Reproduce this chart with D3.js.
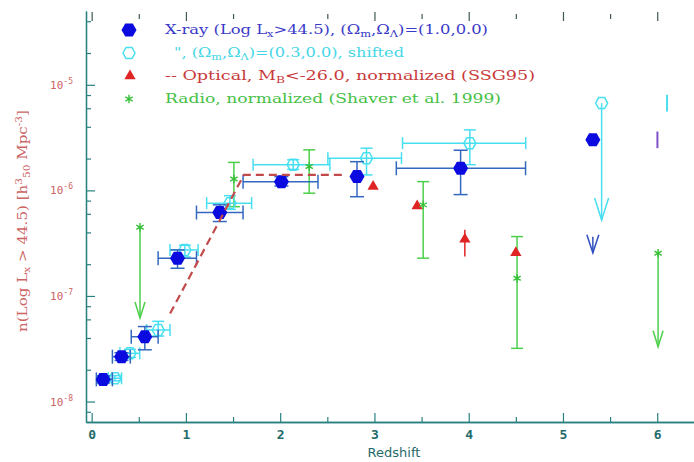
<!DOCTYPE html>
<html><head><meta charset="utf-8">
<script src="https://cdn.jsdelivr.net/npm/d3@7"></script>
<style>body{margin:0;background:#fff}svg{display:block}</style>
</head><body>
<svg id="c" width="694" height="462"></svg>
<script>
// ---------------- data ----------------
// X-ray, (Om,OL)=(1.0,0.0)
const xrayZ   = [0.122, 0.317, 0.564, 0.911, 1.359, 2.013, 2.815, 3.914];
const xrayN   = [1.62e-8, 2.66e-8, 4.11e-8, 2.28e-7, 6.17e-7, 1.21e-6, 1.35e-6, 1.62e-6];
const xrayNlo = [1.50e-8, 2.45e-8, 3.09e-8, 1.83e-7, 5.07e-7, 1.10e-6, 8.71e-7, 9.12e-7];
const xrayNhi = [1.75e-8, 2.90e-8, 5.13e-8, 2.73e-7, 7.30e-7, 1.35e-6, 1.87e-6, 2.40e-6];
const xrayZlo = [0.05, 0.22, 0.42, 0.705, 1.112, 1.606, null, 3.232];
const xrayZhi = [0.22, 0.41, 0.705, 1.112, 1.606, 2.401, null, 4.603];
const xrayLimZ = [5.317], xrayLimN = [3.01e-6], xrayLimTip = [2.56e-7];
// X-ray, (Om,OL)=(0.3,0.0), shifted
const shZ   = [0.247, 0.406, 0.706, 0.989, 1.467, 2.138, 2.916, 4.012];
const shN   = [1.66e-8, 2.86e-8, 4.76e-8, 2.73e-7, 7.57e-7, 1.75e-6, 2.02e-6, 2.80e-6];
const shNlo = [1.57e-8, 2.62e-8, 4.17e-8, 2.34e-7, 6.61e-7, 1.58e-6, 1.40e-6, 1.75e-6];
const shNhi = [1.76e-8, 3.12e-8, 5.75e-8, 3.02e-7, 8.91e-7, 1.95e-6, 2.51e-6, 3.74e-6];
const shZlo = [0.176, 0.30, 0.583, 0.831, 1.220, 1.713, 2.506, 3.298];
const shZhi = [0.317, 0.51, 0.831, 1.129, 1.697, 2.527, 3.287, 4.605];
const shLimZ = [5.41], shLimN = [6.71e-6], shLimTip = [5.25e-7];
// partial error bars at the right edge
const edgeBlueZ = [6.002], edgeBlueLo = [2.51e-6], edgeBlueHi = [3.61e-6];
const edgeCyanZ = [6.104], edgeCyanLo = [5.58e-6], edgeCyanHi = [8.04e-6];
// Optical, normalized (SSG95)
const optZ   = [2.986, 3.453, 3.959, 4.500];
const optN   = [1.09e-6, 7.13e-7, 3.44e-7, 2.57e-7];
const optNlo = [null, null, 2.36e-7, null];
const optNhi = [null, null, 4.23e-7, null];
const optCurveZ = [0.832, 1.615, 2.665];
const optCurveN = [6.81e-8, 1.40e-6, 1.40e-6];
// Radio, normalized (Shaver et al. 1999)
const radZ   = [1.509, 2.308, 3.517, 4.513];
const radN   = [1.28e-6, 1.68e-6, 7.29e-7, 1.47e-7];
const radNlo = [7.01e-7, 9.40e-7, 2.28e-7, 3.19e-8];
const radNhi = [1.84e-6, 2.42e-6, 1.21e-6, 3.65e-7];
const radLimZ = [0.513, 6.009], radLimN = [4.48e-7, 2.54e-7], radLimTip = [6.18e-8, 3.30e-8];
// axes
const xMajor = [0, 1, 2, 3, 4, 5, 6];
const xMinor = [0.5, 1.5, 2.5, 3.5, 4.5, 5.5];
const topMajor = [0, 1, 3, 4, 5, 6];
const topMinor = [0.5, 1.5, 2.5, 3.5, 4.5, 5.5];
const yMajor = [1e-8, 1e-7, 1e-6, 1e-5];
const yMajorLabels = ["-8", "-7", "-6", "-5"];
const yMinor = [8e-9, 2e-8, 4e-8, 6e-8, 8e-8, 2e-7, 4e-7, 6e-7, 8e-7, 2e-6, 4e-6, 6e-6, 8e-6, 2e-5, 4e-5];
const legendLabels = [
  [["X-ray (Log L",""],["x","sub"],[">44.5), (Ω",""],["m","sub"],[",Ω",""],["Λ","sub"],[")=(1.0,0.0)",""]],
  [["\", (Ω",""],["m","sub"],[",Ω",""],["Λ","sub"],[")=(0.3,0.0), shifted",""]],
  [["-- Optical, M",""],["B","sub"],["<-26.0, normalized (SSG95)",""]],
  [["Radio, normalized (Shaver et al. 1999)",""]]
];

// ---------------- styles ----------------
const C = {
  blue: "#0b0be0", blueBar: "#3468c0", cyan: "#48dff0", red: "#e02424", redDash: "#c24a4a",
  green: "#4cd04c", axis: "#2a8080", xText: "#1f6a6a", yText: "#cc6464",
  leg: ["#3a3ac8", "#46d6e6", "#c83a3a", "#46c046"], edgeBlue: "#8050c8"
};

const svg = d3.select("#c");
const x = d3.scaleLinear().domain([-0.06, 6.39]).range([86, 694]);
const y = d3.scaleLog().domain([6.4e-9, 5.0e-5]).range([422, 11]);

// ---------------- axes ----------------
const gAx = svg.append("g");
function styleAxis(g) {
  g.selectAll("path.domain").attr("stroke", C.axis).attr("stroke-width", 1.3);
  g.selectAll(".tick line").attr("stroke", C.axis).attr("stroke-width", 1.2);
}
// bottom
gAx.append("g").attr("transform", "translate(0,422)")
  .call(d3.axisBottom(x).tickValues(xMinor).tickSizeInner(-5).tickSizeOuter(0).tickFormat(""))
  .call(styleAxis);
const bx = gAx.append("g").attr("transform", "translate(0,422)")
  .call(d3.axisBottom(x).tickValues(xMajor).tickSizeInner(-9).tickSizeOuter(0).tickFormat(d3.format("d")).tickPadding(5))
  .call(styleAxis);
bx.selectAll("text").attr("fill", C.xText).attr("font-family", "DejaVu Sans Mono, monospace")
  .attr("font-size", 13).attr("font-weight", "bold").attr("dy", "0.9em");
// top ticks (no line)
const tp1 = gAx.append("g").attr("transform", "translate(0,12)")
  .call(d3.axisBottom(x).tickValues(topMajor).tickSizeInner(9).tickSizeOuter(0).tickFormat(""));
tp1.select("path.domain").remove();
tp1.selectAll(".tick line").attr("stroke", "#405858").attr("stroke-width", 1.2);
const tp2 = gAx.append("g").attr("transform", "translate(0,14)")
  .call(d3.axisBottom(x).tickValues(topMinor).tickSizeInner(5).tickSizeOuter(0).tickFormat(""));
tp2.select("path.domain").remove();
tp2.selectAll(".tick line").attr("stroke", "#405858").attr("stroke-width", 1.2);
// left
gAx.append("g").attr("transform", "translate(86,0)")
  .call(d3.axisLeft(y).tickValues(yMinor).tickSizeInner(-5).tickSizeOuter(0).tickFormat(""))
  .call(styleAxis);
gAx.append("g").attr("transform", "translate(86,0)")
  .call(d3.axisLeft(y).tickValues(yMajor).tickSizeInner(-9).tickSizeOuter(0).tickFormat(""))
  .call(styleAxis);
// y tick labels 10^n
yMajor.forEach((v, i) => {
  const t = svg.append("text").attr("x", 73).attr("y", y(v) + 4).attr("text-anchor", "end")
    .attr("fill", C.yText).attr("font-family", "DejaVu Sans Mono, monospace").attr("font-size", 11);
  t.append("tspan").text("10");
  t.append("tspan").attr("dy", -5).attr("font-size", 8).text(yMajorLabels[i]);
});

// rich text helper
function rich(t, parts, fs) {
  let off = 0;
  parts.forEach(([s, m]) => {
    const target = m === "sub" ? 3 : m === "sup" ? -5 : 0;
    const sp = t.append("tspan").attr("dy", target - off).text(s);
    if (m) sp.attr("font-size", fs * 0.7);
    off = target;
  });
}
// axis titles
const yt = svg.append("text").attr("transform", "translate(27,221) rotate(-90)")
  .attr("text-anchor", "middle").attr("fill", C.yText)
  .attr("font-family", "DejaVu Serif, serif").attr("font-size", 12)
  .attr("textLength", 222).attr("lengthAdjust", "spacingAndGlyphs");
rich(yt, [["n(Log L",""],["x","sub"],[" > 44.5) [h",""],["3","sup"],["50","sub"],[" Mpc",""],["-3","sup"],["]",""]], 12);
svg.append("text").attr("x", 394).attr("y", 457).attr("text-anchor", "middle")
  .attr("fill", C.xText).attr("font-family", "DejaVu Sans, sans-serif").attr("font-size", 13)
  .text("Redshift");

// ---------------- marks ----------------
const g = svg.append("g");
function hexPath(cx, cy, w, h) {
  return `M${cx - w / 2},${cy}L${cx - w / 4},${cy - h / 2}L${cx + w / 4},${cy - h / 2}L${cx + w / 2},${cy}L${cx + w / 4},${cy + h / 2}L${cx - w / 4},${cy + h / 2}Z`;
}
function line(gg, x1, y1, x2, y2, col, sw) {
  gg.append("line").attr("x1", x1).attr("y1", y1).attr("x2", x2).attr("y2", y2)
    .attr("stroke", col).attr("stroke-width", sw || 1.5);
}
function errbars(gg, zs, ns, zlo, zhi, nlo, nhi, col, cap) {
  zs.forEach((z, i) => {
    const cx = x(z), cy = y(ns[i]);
    if (zlo && zlo[i] != null) {
      line(gg, x(zlo[i]), cy, x(zhi[i]), cy, col);
      if (cap) { line(gg, x(zlo[i]), cy - cap, x(zlo[i]), cy + cap, col); line(gg, x(zhi[i]), cy - cap, x(zhi[i]), cy + cap, col); }
    }
    if (nlo && nlo[i] != null) {
      line(gg, cx, y(nlo[i]), cx, y(nhi[i]), col);
      if (cap) { line(gg, cx - cap, y(nlo[i]), cx + cap, y(nlo[i]), col); line(gg, cx - cap, y(nhi[i]), cx + cap, y(nhi[i]), col); }
    }
  });
}
function arrow(gg, z, from, tip, col, hw, hh, shaftOnly) {
  const cx = x(z), ty = y(tip);
  line(gg, cx, shaftOnly ? ty - shaftOnly : y(from), cx, ty, col);
  gg.append("path").attr("d", `M${cx - hw},${ty - hh}L${cx},${ty}L${cx + hw},${ty - hh}`)
    .attr("fill", "none").attr("stroke", col).attr("stroke-width", 1.5);
}

// radio (green)
errbars(g, radZ, radN, null, null, radNlo, radNhi, C.green, 6);
radLimZ.forEach((z, i) => arrow(g, z, radLimN[i], radLimTip[i], C.green, 5, 16));
// shifted (cyan)
errbars(g, shZ, shN, shZlo, shZhi, shNlo, shNhi, C.cyan, 6);
shLimZ.forEach((z, i) => arrow(g, z, shLimN[i], shLimTip[i], C.cyan, 7, 22));
edgeCyanZ.forEach((z, i) => line(g, x(z), y(edgeCyanLo[i]), x(z), y(edgeCyanHi[i]), C.cyan, 2));
g.selectAll(".sh").data(shZ.map((z, i) => [z, shN[i]]).concat(shLimZ.map((z, i) => [z, shLimN[i]])))
  .join("path").attr("d", d => hexPath(x(d[0]), y(d[1]), 12, 11))
  .attr("fill", "none").attr("stroke", C.cyan).attr("stroke-width", 1.5);
// x-ray (blue)
errbars(g, xrayZ, xrayN, xrayZlo, xrayZhi, xrayNlo, xrayNhi, C.blueBar, 7);
xrayLimZ.forEach((z, i) => arrow(g, z, xrayLimN[i], xrayLimTip[i], "#3050c0", 6, 18, 16));
edgeBlueZ.forEach((z, i) => line(g, x(z), y(edgeBlueLo[i]), x(z), y(edgeBlueHi[i]), C.edgeBlue, 2));
g.selectAll(".xr").data(xrayZ.map((z, i) => [z, xrayN[i]]).concat(xrayLimZ.map((z, i) => [z, xrayLimN[i]])))
  .join("path").attr("d", d => hexPath(x(d[0]), y(d[1]), 15, 13)).attr("fill", C.blue);
// optical
g.append("path").datum(optCurveZ.map((z, i) => [z, optCurveN[i]]))
  .attr("d", d3.line().x(d => x(d[0])).y(d => y(d[1])))
  .attr("fill", "none").attr("stroke", C.redDash).attr("stroke-width", 2.2).attr("stroke-dasharray", "8,5");
errbars(g, optZ, optN, null, null, optNlo, optNhi, C.red, 0);
g.selectAll(".op").data(optZ.map((z, i) => [z, optN[i]])).join("path")
  .attr("transform", d => `translate(${x(d[0])},${y(d[1])})`)
  .attr("d", d3.symbol(d3.symbolTriangle, 55)).attr("fill", C.red);
// radio stars
g.selectAll(".rd").data(radZ.map((z, i) => [z, radN[i]]).concat(radLimZ.map((z, i) => [z, radLimN[i]])))
  .join("path").attr("transform", d => `translate(${x(d[0])},${y(d[1])})`)
  .attr("d", d3.symbol(d3.symbolAsterisk, 50)).attr("fill", "none").attr("stroke", "#38c038").attr("stroke-width", 1.4);

// ---------------- legend ----------------
const leg = svg.append("g");
leg.append("path").attr("d", hexPath(129, 30, 15, 13)).attr("fill", C.blue);
leg.append("path").attr("d", hexPath(129, 53, 12, 11)).attr("fill", "none").attr("stroke", C.cyan).attr("stroke-width", 1.5);
leg.append("path").attr("transform", "translate(130,76)").attr("d", d3.symbol(d3.symbolTriangle, 55)).attr("fill", C.red);
leg.append("path").attr("transform", "translate(129,99)").attr("d", d3.symbol(d3.symbolAsterisk, 50))
  .attr("fill", "none").attr("stroke", "#38c038").attr("stroke-width", 1.4);
const legX = [165, 174, 165, 165], legY = [30, 53, 76, 99], legW = [323, 230, 370, 336];
legendLabels.forEach((parts, i) => {
  const t = leg.append("text").attr("x", legX[i]).attr("y", legY[i] + 4)
    .attr("fill", C.leg[i]).attr("font-family", "DejaVu Serif, serif").attr("font-size", 12)
    .attr("textLength", legW[i]).attr("lengthAdjust", "spacingAndGlyphs");
  rich(t, parts, 12);
});
</script>
</body></html>
